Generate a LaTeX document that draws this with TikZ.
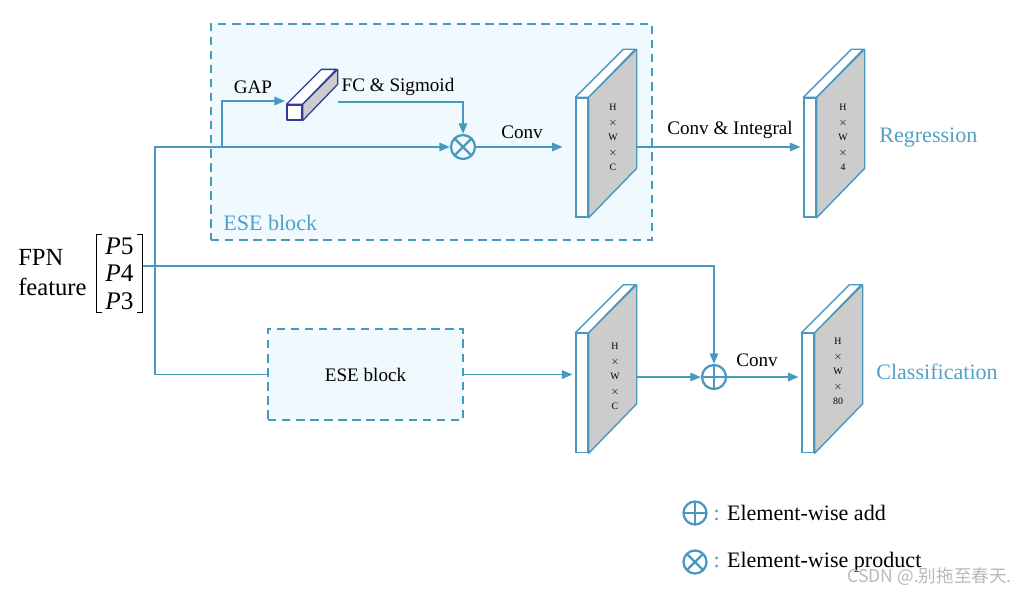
\documentclass[tikz,border=0pt]{standalone}
\usepackage{fontspec}
\setmainfont{Liberation Serif}
\newfontfamily\cjkfont{Noto Sans CJK SC}
\usetikzlibrary{arrows.meta,positioning}
\definecolor{lineblue}{RGB}{72,152,192}
\definecolor{txtblue}{RGB}{84,160,198}
\definecolor{boxfill}{RGB}{240,250,254}
\definecolor{facegray}{RGB}{204,204,204}
\definecolor{cubeline}{RGB}{50,60,150}

\begin{document}
\begin{tikzpicture}[x=0.025cm,y=-0.025cm,
  flow/.style={draw=lineblue,line width=1.3pt},
  arr/.style={flow,-{Triangle[length=7.5pt,width=6pt]}},
  eseframe/.style={draw=lineblue,fill=boxfill,line width=1.1pt,dash pattern=on 6pt off 4pt},
  fmap/.style={draw=lineblue,fill=white,line width=1pt,minimum width=0.3cm,minimum height=2.975cm,inner sep=0pt},
  face/.style={draw=lineblue,line width=1pt,line join=round},
  cubeface/.style={draw=cubeline,line width=0.9pt,line join=round},
  dims/.style={font=\fontsize{7}{10.7}\selectfont,align=center,inner sep=0pt},
  lbl/.style={font=\fontsize{13.6}{16}\selectfont,inner sep=0pt},
  bluelbl/.style={font=\fontsize{15.7}{18}\selectfont,text=txtblue,inner sep=0pt},
  legtxt/.style={font=\fontsize{15.7}{18}\selectfont,inner sep=0pt},
  opnode/.style={circle,draw=lineblue,line width=1.6pt,minimum size=0.6cm,inner sep=0pt},
  addop/.style={opnode,path picture={\draw[lineblue,line width=1.6pt] (path picture bounding box.north) -- (path picture bounding box.south) (path picture bounding box.west) -- (path picture bounding box.east);}},
  mulop/.style={opnode,path picture={\draw[lineblue,line width=1.6pt] (path picture bounding box.north west) -- (path picture bounding box.south east) (path picture bounding box.south west) -- (path picture bounding box.north east);}}]
\useasboundingbox (0,0) rectangle (1026,594);

\node[eseframe,minimum width=11.025cm,minimum height=5.4cm] (ese1) at (431.5,132) {};
\node[bluelbl,anchor=west] (ese1lab) at (223,223) {ESE block};
\node[eseframe,minimum width=4.875cm,minimum height=2.275cm,font=\fontsize{13.6}{16}\selectfont] (ese2) at (365.5,374.5) {ESE block};

\node[align=left,font=\fontsize{17.5}{21.3}\selectfont,inner sep=0pt,anchor=west] (fpnlab) at (18,273) {FPN\\feature};
\node[align=center,font=\fontsize{18}{19.6}\selectfont,inner sep=0pt,minimum width=1.15cm,minimum height=1.925cm] (fpn) at (119.5,273.5) {\textit{P}5\\\textit{P}4\\\textit{P}3};
\draw[line width=0.8pt] ([xshift=4pt]fpn.north west) -- (fpn.north west) -- (fpn.south west) -- ([xshift=4pt]fpn.south west);
\draw[line width=0.8pt] ([xshift=-4pt]fpn.north east) -- (fpn.north east) -- (fpn.south east) -- ([xshift=-4pt]fpn.south east);

\coordinate (split) at (155,147);
\coordinate (tap) at (155,266);
\coordinate (gap) at (222,147);
\coordinate (cubein) at (285,101);
\coordinate (cubeout) at (338,102);

\node[cubeface,fill=white,minimum size=0.375cm,inner sep=0pt] (cube) at (294.5,112.5) {};
\draw[cubeface,fill=white] (cube.north west) -- ++(35,-35) -- ++(15,0) -- (cube.north east) -- cycle;
\draw[cubeface,fill=facegray] (cube.north east) -- ++(35,-35) -- ++(0,15) -- (cube.south east) -- cycle;

\node[mulop] (mul) at (463,147) {};
\node[addop] (add) at (714,377) {};

\node[fmap] (m1) at (582,157.5) {};
\draw[face,fill=white] (m1.north west) -- ++(48,-48) -- ++(12,0) -- (m1.north east) -- cycle;
\draw[face,fill=facegray] (m1.north east) -- ++(48,-48) coordinate (m1b) -- ++(0,119) -- (m1.south east) -- cycle;
\node[dims] (m1t) at (613,137) {H\\$\times$\\W\\$\times$\\C};

\node[fmap] (m2) at (810,157.5) {};
\draw[face,fill=white] (m2.north west) -- ++(48,-48) -- ++(12,0) -- (m2.north east) -- cycle;
\draw[face,fill=facegray] (m2.north east) -- ++(48,-48) coordinate (m2b) -- ++(0,119) -- (m2.south east) -- cycle;
\node[dims] (m2t) at (843,137) {H\\$\times$\\W\\$\times$\\4};

\node[fmap] (m3) at (582,393) {};
\draw[face,fill=white] (m3.north west) -- ++(48,-48) -- ++(12,0) -- (m3.north east) -- cycle;
\draw[face,fill=facegray] (m3.north east) -- ++(48,-48) coordinate (m3b) -- ++(0,119) -- (m3.south east) -- cycle;
\node[dims] (m3t) at (615,376) {H\\$\times$\\W\\$\times$\\C};

\node[fmap] (m4) at (808,393) {};
\draw[face,fill=white] (m4.north west) -- ++(48,-48) -- ++(12,0) -- (m4.north east) -- cycle;
\draw[face,fill=facegray] (m4.north east) -- ++(48,-48) coordinate (m4b) -- ++(0,119) -- (m4.south east) -- cycle;
\node[dims] (m4t) at (838,371) {H\\$\times$\\W\\$\times$\\80};

\draw[arr] (ese2.west) -| (split) -- (mul);
\draw[arr] (gap) |- (cubein);
\draw[arr] (cubeout) -| (mul);
\draw[arr,shorten >=9pt] (mul) -- (mul -| m1.west);
\draw[arr,shorten >=2pt] (mul -| m1b) -- (mul -| m2.west);
\draw[arr] (fpn.east |- tap) -| (add);
\draw[arr,shorten >=2pt] (ese2.east) -- (ese2.east -| m3.west);
\draw[arr] (add -| m3b) -- (add);
\draw[arr,shorten >=2pt] (add) -- (add -| m4.west);

\node[lbl] (gaplab) at (253,87) {GAP};
\node[lbl] (fclab) at (398,87) {FC \& Sigmoid};
\node[lbl] (conv1) at (522,132) {Conv};
\node[lbl] (conv2) at (730,130) {Conv \& Integral};
\node[lbl] (conv3) at (757,360) {Conv};
\node[bluelbl,anchor=west] (reg) at (879,138) {Regression};
\node[bluelbl,anchor=west] (cls) at (876,372) {Classification};

\node[addop,minimum size=0.575cm] (ladd) at (695,513) {};
\node[legtxt,right=4pt of ladd] (laddt) {\textcolor{lineblue}{:} Element-wise add};
\node[mulop,minimum size=0.575cm] (lmul) at (695,562) {};
\node[legtxt,right=4pt of lmul] (lmult) {\textcolor{lineblue}{:} Element-wise product};

\node[font=\cjkfont\fontsize{12.5}{14}\selectfont,text=gray!55,anchor=east,inner sep=0pt] (wm) at (1012,577) {CSDN @.别拖至春天.};
\end{tikzpicture}
\end{document}
